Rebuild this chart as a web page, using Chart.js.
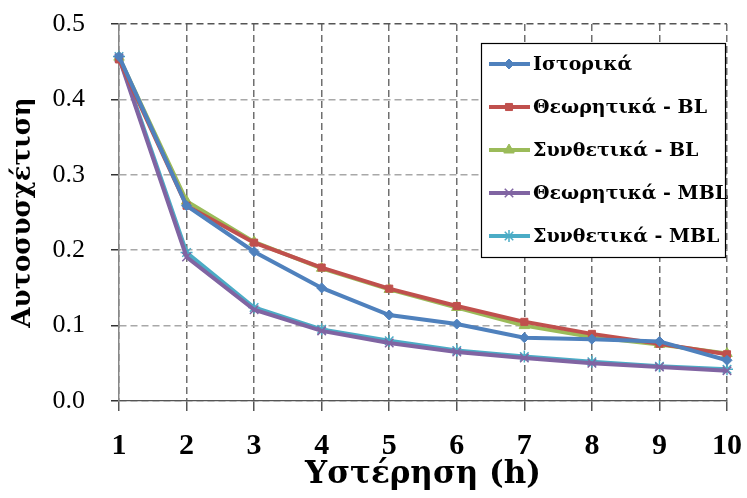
<!DOCTYPE html>
<html>
<head>
<meta charset="utf-8">
<script src="https://cdn.jsdelivr.net/npm/chart.js@4.4.1/dist/chart.umd.min.js"></script>
<style>
  html, body { margin: 0; padding: 0; background: #fff; }
  #wrap { width: 747px; height: 498px; }
</style>
</head>
<body>
<div id="wrap"><canvas id="acfChart" width="747" height="498"></canvas></div>
<script>
// Lags (hours)
const lags = ['1', '2', '3', '4', '5', '6', '7', '8', '9', '10'];

// Autocorrelation values
const historical   = [0.457, 0.259, 0.198, 0.150, 0.114, 0.102, 0.084, 0.082, 0.079, 0.054];
const theoreticBL  = [0.453, 0.259, 0.210, 0.177, 0.149, 0.126, 0.105, 0.089, 0.076, 0.062];
const syntheticBL  = [0.456, 0.265, 0.211, 0.176, 0.148, 0.124, 0.100, 0.085, 0.075, 0.063];
const theoreticMBL = [0.455, 0.191, 0.121, 0.093, 0.077, 0.065, 0.057, 0.050, 0.045, 0.040];
const syntheticMBL = [0.457, 0.197, 0.124, 0.095, 0.080, 0.067, 0.059, 0.052, 0.046, 0.042];

const yTicks = [0.0, 0.1, 0.2, 0.3, 0.4, 0.5];

const SERIF = '"Liberation Serif", "DejaVu Serif", serif';
const WIDE_SERIF = '"DejaVu Serif", "Liberation Serif", serif';

function makeSeries(label, data, color, style, radius) {
    return {
        label: label,
        data: data,
        borderColor: color,
        backgroundColor: color,
        borderWidth: 4,
        pointStyle: style,
        pointRadius: radius,
        pointBorderWidth: style === 'crossRot' || style === 'star' ? 1.5 : 1,
        tension: 0
    };
}

// Legend drawn inside the plot area, like the original
const boxLegend = {
    id: 'boxLegend',
    afterDatasetsDraw(chart) {
        const ctx = chart.ctx;
        const x0 = 481, y0 = 43, w = 244, h = 214;
        ctx.save();
        ctx.fillStyle = '#fff';
        ctx.fillRect(x0, y0, w, h);
        ctx.strokeStyle = '#000';
        ctx.lineWidth = 1.2;
        ctx.strokeRect(x0 + 0.5, y0 + 0.5, w, h);
        ctx.font = 'bold 19px ' + WIDE_SERIF;
        ctx.textBaseline = 'middle';
        chart.data.datasets.forEach((ds, i) => {
            const yy = 64 + i * 43;
            ctx.strokeStyle = ds.borderColor;
            ctx.lineWidth = 4;
            ctx.beginPath();
            ctx.moveTo(489, yy);
            ctx.lineTo(530, yy);
            ctx.stroke();
            ctx.fillStyle = ds.backgroundColor;
            ctx.strokeStyle = ds.borderColor;
            ctx.lineWidth = ds.pointBorderWidth;
            Chart.helpers.drawPoint(ctx, {
                pointStyle: ds.pointStyle,
                radius: ds.pointRadius,
                rotation: 0,
                borderWidth: ds.pointBorderWidth
            }, 509, yy);
            ctx.fillStyle = '#000';
            ctx.fillText(ds.label, 533, yy + 1);
        });
        ctx.restore();
    }
};

new Chart(document.getElementById('acfChart').getContext('2d'), {
    type: 'line',
    data: {
        labels: lags,
        datasets: [
            makeSeries('Ιστορικά', historical, '#4F81BD', 'rectRot', 5),
            makeSeries('Θεωρητικά - BL', theoreticBL, '#C0504D', 'rect', 5),
            makeSeries('Συνθετικά - BL', syntheticBL, '#9BBB59', 'triangle', 6),
            makeSeries('Θεωρητικά - MBL', theoreticMBL, '#8064A2', 'crossRot', 6),
            makeSeries('Συνθετικά - MBL', syntheticMBL, '#4BACC6', 'star', 6)
        ]
    },
    options: {
        responsive: false,
        animation: false,
        layout: { padding: { top: 24, right: 20, left: 8, bottom: 4 } },
        plugins: {
            legend: { display: false },
            tooltip: { enabled: false }
        },
        scales: {
            x: {
                offset: false,
                afterFit(scale) {
                    scale.height = 93;
                    scale.paddingLeft = 0;
                    scale.paddingRight = 0;
                },
                grid: {
                    color: '#6f6f6f',
                    lineWidth: 1.5,
                    tickLength: 10,
                    tickColor: '#555',
                    tickBorderDash: []
                },
                border: { color: '#555', width: 1.3, dash: [7, 4] },
                ticks: {
                    color: '#000',
                    font: { family: SERIF, size: 30, weight: 'bold' },
                    padding: 17,
                    maxRotation: 0
                },
                title: {
                    display: true,
                    text: 'Υστέρηση (h)',
                    color: '#000',
                    font: { family: WIDE_SERIF, size: 31, weight: 'bold' },
                    padding: { top: 0, bottom: 0 }
                }
            },
            y: {
                min: 0,
                max: 0.5,
                afterFit(scale) {
                    scale.width = 111;
                    scale.paddingTop = 0;
                    scale.paddingBottom = 0;
                },
                afterBuildTicks(scale) {
                    scale.ticks = yTicks.map(v => ({ value: v }));
                },
                grid: {
                    color: ctx => ctx.tick && ctx.tick.value === 0.5 ? '#555' : '#a8a8a8',
                    lineWidth: 1.5,
                    tickLength: 8,
                    tickColor: '#333',
                    tickBorderDash: []
                },
                border: { color: '#888', width: 1.5, dash: [7, 4] },
                ticks: {
                    color: '#000',
                    font: { family: SERIF, size: 26 },
                    padding: 26,
                    callback: v => v.toFixed(1)
                },
                title: {
                    display: true,
                    text: 'Αυτοσυσχέτιση',
                    color: '#000',
                    font: { family: WIDE_SERIF, size: 26, weight: 'bold' },
                    padding: { top: 0, bottom: 2 }
                }
            }
        }
    },
    plugins: [boxLegend]
});
</script>
</body>
</html>
